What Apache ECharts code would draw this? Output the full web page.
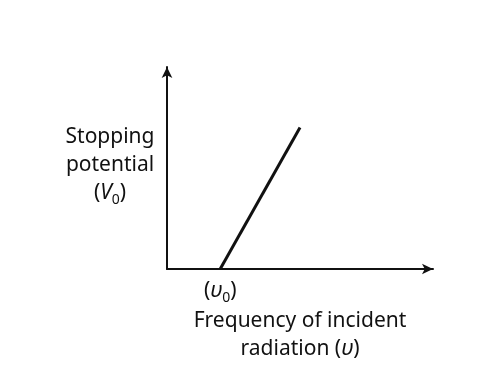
<!DOCTYPE html>
<html>
<head>
<meta charset="utf-8">
<script src="https://cdn.jsdelivr.net/npm/echarts@6/dist/echarts.min.js"></script>
<style>html,body{margin:0;padding:0;background:#fff}#c{width:483px;height:368px}</style>
</head>
<body>
<div id="c"></div>
<script>
// Data (arbitrary units)
const frequency = [2, 5];          // x: threshold frequency, then a higher frequency
const potential = [0, 7];          // y: stopping potential
const thresholdTick = 2;           // position of the (υ0) label
const xName = 'Frequency of incident\nradiation ({g|υ})';
const yName = 'Stopping\npotential\n({i|V}{s|0})';
const thresholdLabel = '({g|υ}{s|0})';

const FONT = 'Noto Sans';
const INK = '#111';
const FS = 21;
const rich = {
  i: {fontStyle: 'italic', fontSize: FS, fontFamily: FONT, color: INK, lineHeight: 28},
  g: {fontStyle: 'italic', fontSize: FS, fontFamily: FONT, color: INK, lineHeight: 28},
  s: {fontSize: 14, fontFamily: FONT, color: INK, verticalAlign: 'bottom', padding: [8, 0, 0, 0], lineHeight: 28}
};

const chart = echarts.init(document.getElementById('c'), null, {renderer: 'canvas'});
chart.setOption({
  backgroundColor: '#ffffff',
  animation: false,
  grid: {left: 167, right: 50, top: 67, bottom: 99, containLabel: false, outerBoundsMode: 'none'},
  xAxis: {
    type: 'value', min: 0, max: 10, interval: 1,
    name: xName, nameLocation: 'middle', nameGap: 66, nameMoveOverlap: false,
    nameTextStyle: {fontFamily: FONT, fontSize: FS, color: INK, lineHeight: 28, align: 'center', verticalAlign: 'middle', rich: rich},
    axisLine: {show: true, lineStyle: {color: INK, width: 2}, symbol: ['none', 'arrow'], symbolSize: [8, 11]},
    axisTick: {show: false},
    splitLine: {show: false},
    axisLabel: {
      margin: 8, fontFamily: FONT, fontSize: FS, color: INK, rich: rich,
      formatter: v => (v === thresholdTick ? thresholdLabel : '')
    }
  },
  yAxis: {
    type: 'value', min: 0, max: 10, interval: 1,
    name: yName, nameLocation: 'middle', nameGap: 57, nameRotate: 0, nameMoveOverlap: false,
    nameTextStyle: {fontFamily: FONT, fontSize: FS, color: INK, lineHeight: 28, align: 'center', verticalAlign: 'middle', padding: [0, 0, 5, 0], rich: rich},
    axisLine: {show: true, lineStyle: {color: INK, width: 2}, symbol: ['none', 'arrow'], symbolSize: [8, 11]},
    axisTick: {show: false},
    splitLine: {show: false},
    axisLabel: {show: false}
  },
  series: [{
    type: 'line',
    data: frequency.map((f, i) => [f, potential[i]]),
    symbol: 'none',
    lineStyle: {color: INK, width: 3},
    silent: true
  }]
});
</script>
</body>
</html>
